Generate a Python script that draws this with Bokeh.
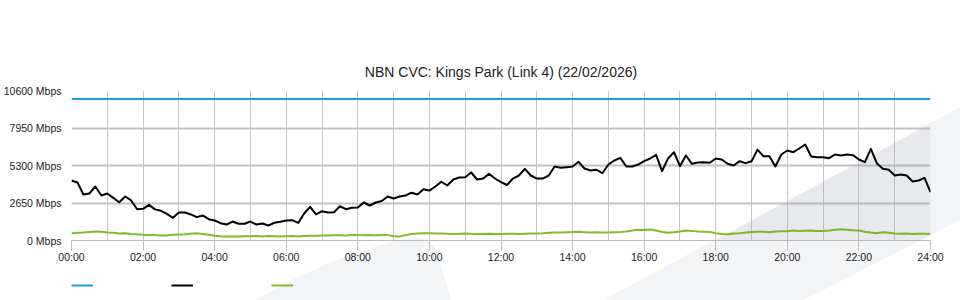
import numpy as np
from bokeh.plotting import figure
from bokeh.layouts import column
from bokeh.models import Range1d, FixedTicker, Legend, LegendItem, PolyAnnotation
from bokeh.core.properties import value
from bokeh.embed import file_html
from bokeh.resources import INLINE

# ---------------- data ----------------
title_text = "NBN CVC: Kings Park (Link 4) (22/02/2026)"

x_tick_hours = [0, 2, 4, 6, 8, 10, 12, 14, 16, 18, 20, 22, 24]
x_tick_labels = ["00:00", "02:00", "04:00", "06:00", "08:00", "10:00", "12:00",
                 "14:00", "16:00", "18:00", "20:00", "22:00", "24:00"]
y_tick_values = [0, 2650, 5300, 7950, 10600]
y_tick_labels = ["0 Mbps", "2650 Mbps", "5300 Mbps", "7950 Mbps", "10600 Mbps"]

capacity_hours = [0, 24]
capacity_mbps = [10000, 10000]

sample_step_minutes = 10

# black series (10-minute samples, 00:00 .. 24:00)
download_mbps = [
    4240, 4100, 3250, 3320, 3815, 3180,
    3320, 3015, 2700, 3110, 2830, 2210,
    2240, 2520, 2200, 2100, 1885, 1600,
    1980, 1980, 1840, 1650, 1770, 1505,
    1413, 1225, 1130, 1340, 1180, 1180,
    1340, 1130, 1200, 1060, 1250, 1320,
    1413, 1435, 1240, 1910, 2380, 1850,
    2070, 1980, 2000, 2420, 2210, 2310,
    2330, 2685, 2473, 2685, 2790, 3110,
    2970, 3110, 3180, 3380, 3250, 3625,
    3530, 3815, 4150, 3887, 4310, 4450,
    4475, 4805, 4310, 4380, 4710, 4380,
    4120, 3920, 4380, 4593, 5064, 4593,
    4380, 4380, 4593, 5230, 5140, 5182,
    5230, 5560, 5090, 4947, 5000, 4755,
    5370, 5653, 5841, 5230, 5230, 5370,
    5605, 5795, 6050, 4900, 5795, 6242,
    5253, 6007, 5420, 5510, 5535, 5490,
    5795, 5725, 5420, 5300, 5605, 5465,
    5605, 6420, 5950, 5960, 5230, 6077,
    6360, 6242, 6500, 6784, 5935, 5890,
    5890, 5815, 6077, 6007, 6077, 6030,
    5725, 5535, 6478, 5465, 5064, 5000,
    4593, 4665, 4593, 4170, 4240, 4430,
    3416,
]

# green series (10-minute samples, 00:00 .. 24:00)
upload_mbps = [
    520, 540, 560, 600, 640, 620,
    560, 540, 500, 520, 460, 440,
    400, 380, 380, 350, 360, 400,
    420, 440, 480, 520, 460, 400,
    340, 300, 280, 290, 280, 300,
    300, 310, 290, 310, 300, 290,
    300, 310, 290, 320, 340, 330,
    350, 360, 370, 370, 360, 380,
    380, 370, 380, 370, 380, 380,
    300, 280, 380, 460, 490, 520,
    520, 500, 490, 470, 460, 470,
    490, 470, 460, 460, 470, 460,
    460, 470, 480, 460, 480, 490,
    490, 510, 540, 570, 560, 590,
    600, 620, 590, 560, 580, 560,
    560, 580, 600, 640, 700, 760,
    740, 780, 700, 600, 540, 580,
    640, 700, 680, 640, 620, 600,
    520, 460, 440, 500, 520, 560,
    600, 620, 620, 580, 640, 660,
    660, 700, 680, 690, 700, 680,
    680, 700, 760, 790, 760, 720,
    700, 620, 560, 520, 580, 540,
    500, 480, 500, 460, 480, 470,
    460,
]

hours = np.arange(len(download_mbps)) * sample_step_minutes / 60.0
grid_hours = list(range(0, 25))

# ---------------- styling constants ----------------
FONT = "Liberation Sans"
TEXT = "#222222"
BLUE = "#1c9fdf"
GREEN = "#80bd2d"
GRID = "#c6c6c6"
W, H_MAIN, H_LEG = 960, 270, 30
L, R, T, B = 70, 30, 90, 30
X0, X1, Y0, Y1 = 0, 24, 0, 10600

# faint background watermark drawn as the page element's CSS background
WATERMARK_SVG = (
    "data:image/svg+xml;utf8,"
    "<svg xmlns='http://www.w3.org/2000/svg' width='960' height='300'>"
    "<polygon fill='%23f3f4f6' points='600,302 962,106 962,219 800,302'/>"
    "<path fill='%23f3f4f6' d='M253,302 Q330,255 410,238 Q428,236 436,250 L452,302 Z'/>"
    "</svg>"
)
def bg(offset_y):
    return {"background-color": "white",
            "background-image": f'url("{WATERMARK_SVG}")',
            "background-repeat": "no-repeat",
            "background-size": "960px 300px",
            "background-position": f"0px {-offset_y}px"}

p = figure(width=W, height=H_MAIN, output_backend="svg", toolbar_location=None,
           x_range=Range1d(X0, X1), y_range=Range1d(Y0, Y1),
           min_border_left=L, min_border_right=R,
           min_border_top=T, min_border_bottom=B)
p.border_fill_color = None
p.background_fill_color = None
p.outline_line_color = None
p.styles = bg(0)

# the part of the watermark band that lies inside the plot frame
fw, fh = W - L - R, H_MAIN - T - B
def px2x(px):
    return X0 + (px - L) / fw * (X1 - X0)
def py2y(py):
    return Y0 + (H_MAIN - B - py) / fh * (Y1 - Y0)
band_px = [(600, 302), (962, 106), (962, 219), (800, 302)]
p.add_layout(PolyAnnotation(xs=[px2x(a) for a, b in band_px],
                            ys=[py2y(b) for a, b in band_px],
                            fill_color="#0f234b", fill_alpha=0.05, line_color=None))

# title
p.title.text = title_text
p.title.align = "center"
p.title.text_font = FONT
p.title.text_font_size = "14px"
p.title.text_font_style = "normal"
p.title.text_color = TEXT
p.title.standoff = 22

# axes
xa = p.xaxis[0]
xa.ticker = FixedTicker(ticks=x_tick_hours)
xa.major_label_overrides = dict(zip(x_tick_hours, x_tick_labels))
xa.axis_line_color = "#bdbdbd"
xa.major_tick_line_color = "#bdbdbd"
xa.major_tick_out = 10
xa.major_tick_in = 0
xa.minor_tick_line_color = None
xa.major_label_standoff = 0
xa.major_label_text_font = FONT
xa.major_label_text_font_size = "10.5px"
xa.major_label_text_color = TEXT

ya = p.yaxis[0]
ya.ticker = FixedTicker(ticks=y_tick_values)
ya.major_label_overrides = dict(zip(y_tick_values, y_tick_labels))
ya.axis_line_color = None
ya.major_tick_line_color = None
ya.minor_tick_line_color = None
ya.major_tick_out = 0
ya.major_tick_in = 0
ya.major_label_standoff = 10
ya.major_label_text_font = FONT
ya.major_label_text_font_size = "10.5px"
ya.major_label_text_color = TEXT

# grids
p.xgrid.ticker = FixedTicker(ticks=grid_hours)
p.xgrid.grid_line_color = GRID
p.xgrid.grid_line_width = 1
p.ygrid.grid_line_color = "#c2c2c2"
p.ygrid.grid_line_width = 2

# series
series = [(capacity_hours, capacity_mbps), (hours, download_mbps), (hours, upload_mbps)]
line_styles = [dict(line_color=BLUE, line_width=2),
               dict(line_color="black", line_width=2, line_join="round"),
               dict(line_color=GREEN, line_width=2, line_join="round")]
for (xs, ys), st in zip(series, line_styles):
    p.line(xs, ys, **st)

# legend strip below the chart (swatches only, as in the reference);
# its renderers hold the same series but the strip's ranges keep them out of view
pl = figure(width=W, height=H_LEG, output_backend="svg", toolbar_location=None,
            x_range=Range1d(X0, X1), y_range=Range1d(-2, -1),
            x_axis_location=None, y_axis_location=None,
            min_border_left=69, min_border_right=0, min_border_top=0, min_border_bottom=0)
pl.border_fill_color = None
pl.background_fill_color = None
pl.outline_line_color = None
pl.grid.visible = False
pl.styles = bg(H_MAIN)
swatch_renderers = [pl.line(xs, ys, **st) for (xs, ys), st in zip(series, line_styles)]
legend = Legend(items=[LegendItem(label=value(""), renderers=[r]) for r in swatch_renderers],
                orientation="horizontal", location="left",
                glyph_width=22, glyph_height=20, label_width=78, label_height=20,
                label_standoff=0, spacing=0, padding=0, margin=0,
                background_fill_alpha=0, border_line_color=None,
                label_text_font=FONT, label_text_font_size="10.5px")
pl.add_layout(legend, "center")

layout = column(p, pl, spacing=0)
open("out.html", "w").write(file_html(layout, INLINE))
